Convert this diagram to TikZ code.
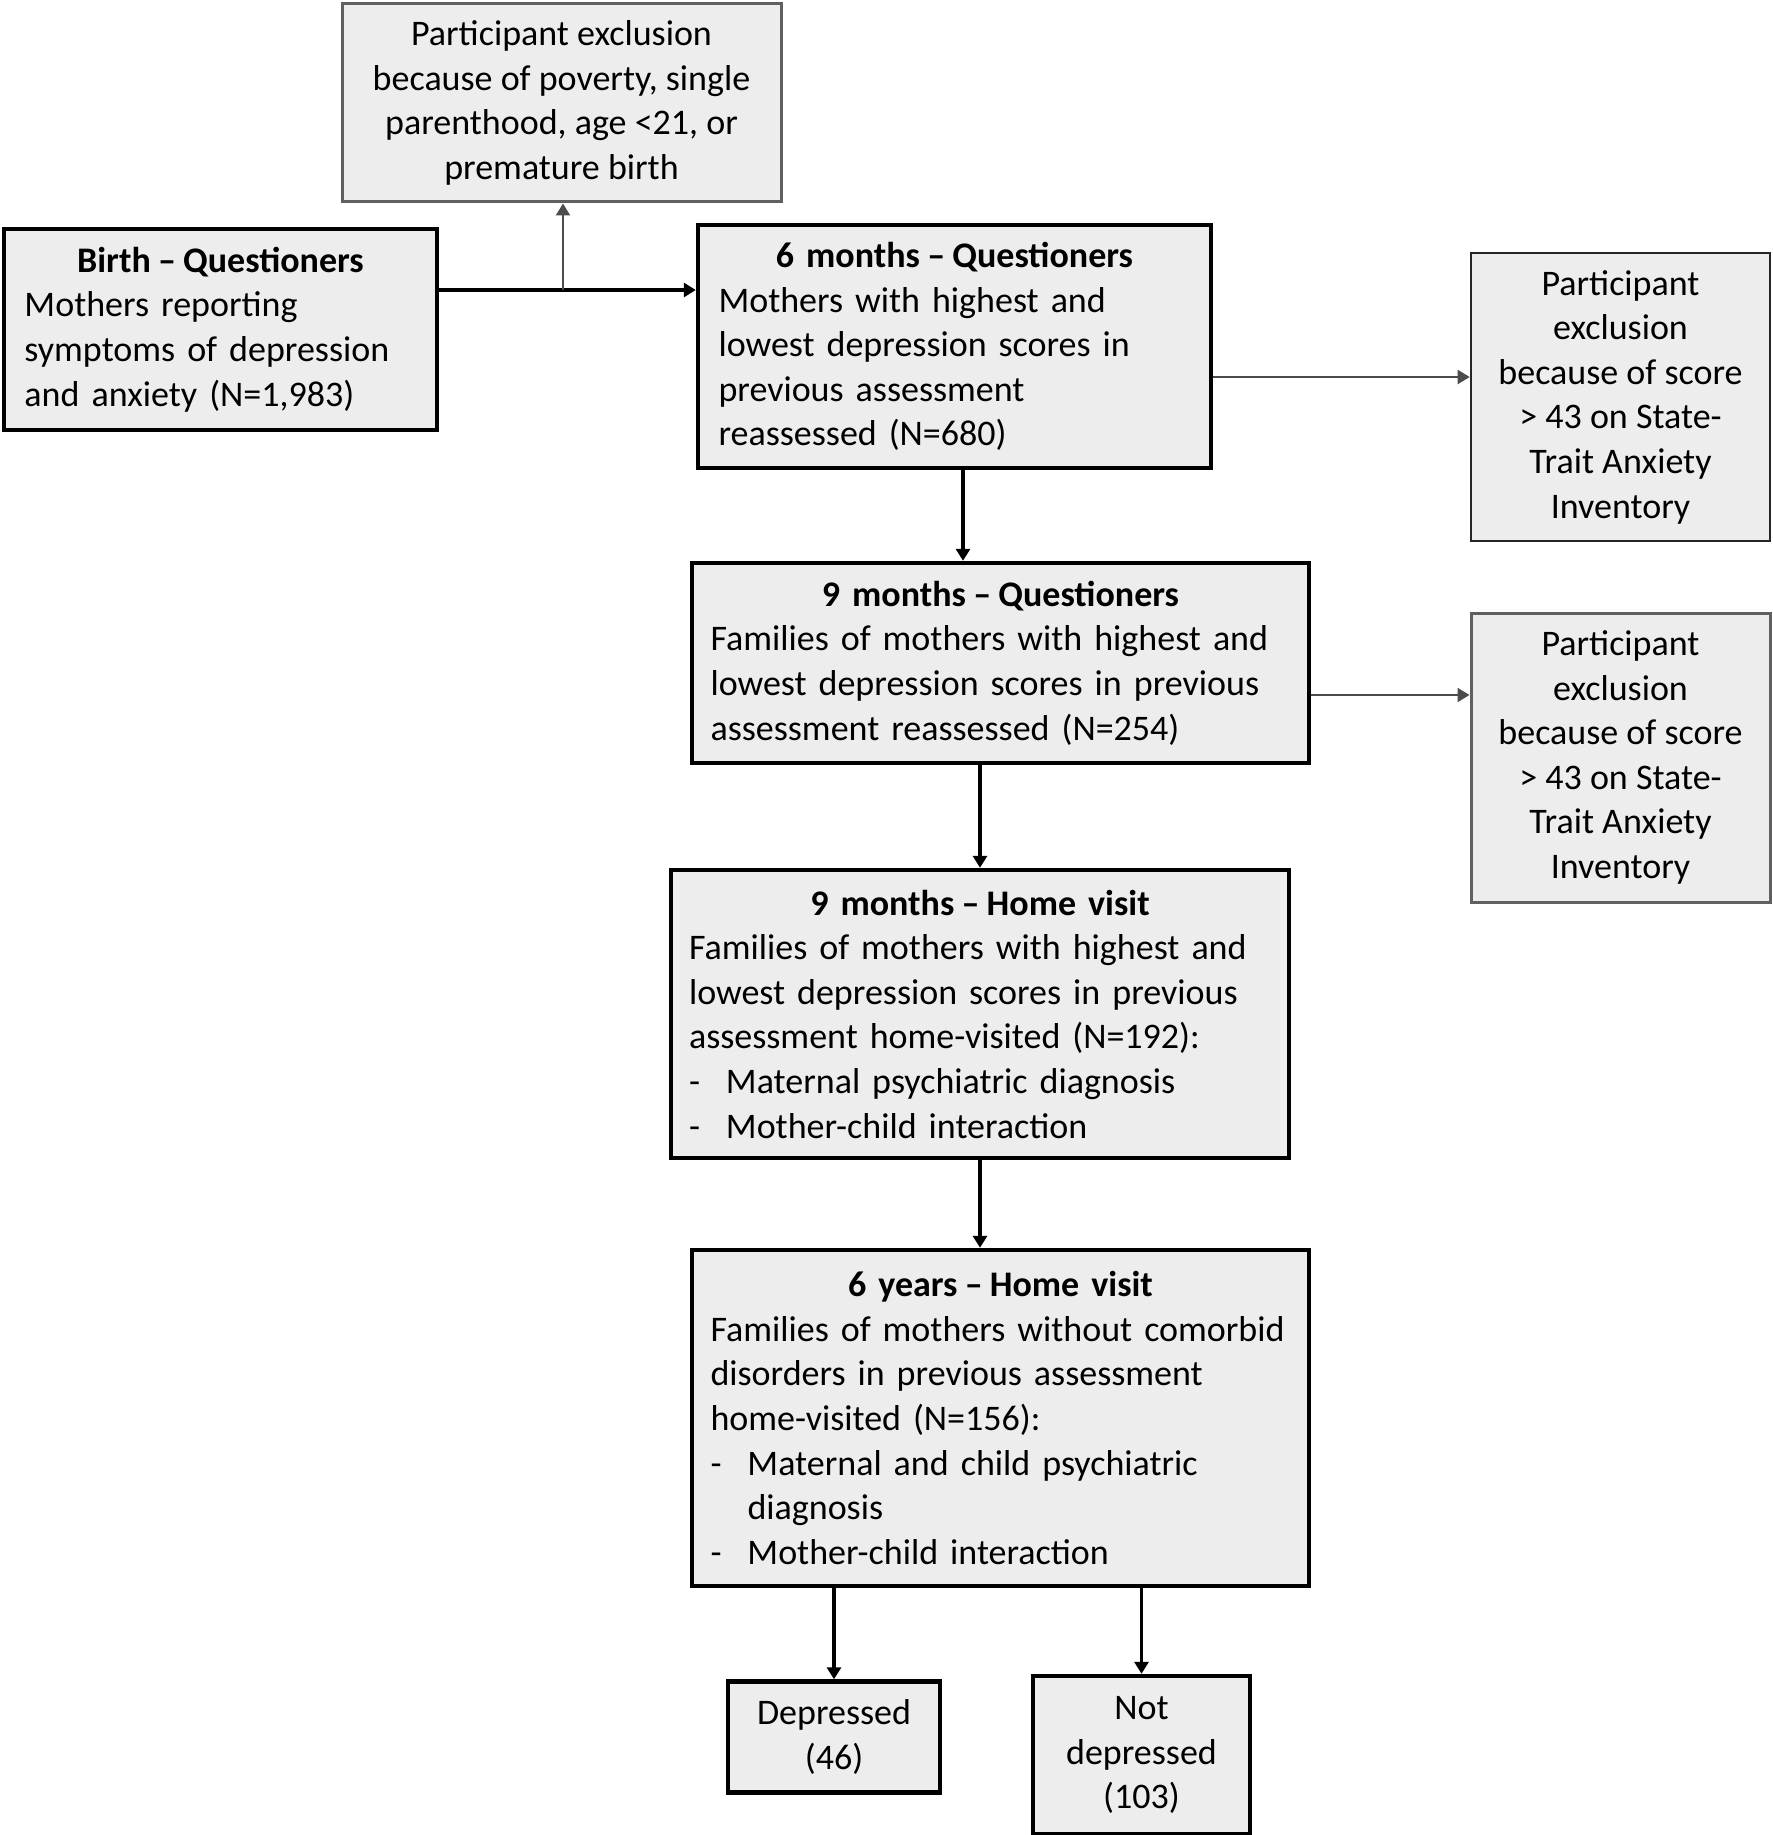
\documentclass[tikz,border=0pt]{standalone}
\usepackage{fontspec}
\setmainfont{Carlito}
\usetikzlibrary{arrows.meta,calc}
\definecolor{boxfill}{HTML}{EDEDED}
\tikzset{
  px/.style={x=0.5pt,y=-0.5pt},
  mainbox/.style={draw=black,line width=2.2pt,fill=boxfill,inner sep=0pt,
    font=\fontsize{18}{22.3}\selectfont},
  exbox/.style={draw=gray!75!black,line width=1.5pt,fill=boxfill,inner sep=0pt,
    align=center,font=\fontsize{18}{22.3}\selectfont},
  mainarrow/.style={line width=1.6pt,draw=black,-{Triangle[width=7pt,length=6pt]}},
  exarrow/.style={line width=1pt,draw=gray!60!black,-{Triangle[width=7pt,length=6pt]}},
}
\newcommand{\ttl}[2]{{\centering\bfseries #1\hspace{0.2em}–\hspace{0.2em}#2\par}}
\newcommand{\itm}[1]{\makebox[18.5pt][l]{-}#1}
\begin{document}
\begin{tikzpicture}[px]
\useasboundingbox (0,0) rectangle (1772,1835);

\node[exbox,minimum width=219.5pt,minimum height=99pt] (excTop) at (561.5,103)
  {Participant exclusion\\because of poverty, single\\parenthood, age <21, or\\premature birth};

\node[mainbox,minimum width=216.5pt,minimum height=100.5pt,text width=196pt] (birth) at (220.5,329.5)
  {\ttl{Birth}{Questioners}\raggedright Mothers reporting\\symptoms of depression\\and anxiety (N=1,983)};

\node[mainbox,minimum width=256.5pt,minimum height=121.5pt,text width=236pt] (m6) at (954.5,346.5)
  {\ttl{6 months}{Questioners}\raggedright Mothers with highest and\\lowest depression scores in\\previous assessment\\reassessed (N=680)};

\node[exbox,draw=black!85,line width=1.3pt,minimum width=149.5pt,minimum height=144pt] (exc1) at (1620.5,397)
  {Participant\\exclusion\\because of score\\> 43 on State-\\Trait Anxiety\\Inventory};

\node[mainbox,minimum width=308.5pt,minimum height=100pt,text width=290pt] (m9q) at (1000.5,663)
  {\ttl{9 months}{Questioners}\raggedright Families of mothers with highest and\\lowest depression scores in previous\\assessment reassessed (N=254)};

\node[exbox,minimum width=149.5pt,minimum height=144.5pt] (exc2) at (1620.5,757.5)
  {Participant\\exclusion\\because of score\\> 43 on State-\\Trait Anxiety\\Inventory};

\node[mainbox,minimum width=309pt,minimum height=144pt,text width=291pt] (m9h) at (980,1014)
  {\ttl{9 months}{Home visit}\raggedright Families of mothers with highest and\\lowest depression scores in previous\\assessment home-visited (N=192):\\\itm{Maternal psychiatric diagnosis}\\\itm{Mother-child interaction}};

\node[mainbox,minimum width=308.5pt,minimum height=168pt,text width=290pt] (y6) at (1000.5,1418)
  {\ttl{6 years}{Home visit}\raggedright Families of mothers without comorbid\\disorders in previous assessment\\home-visited (N=156):\\\itm{Maternal and child psychiatric}\\\hspace*{18.5pt}diagnosis\\\itm{Mother-child interaction}};

\node[mainbox,align=center,minimum width=106pt,minimum height=55.5pt] (dep) at (834,1737)
  {Depressed\\(46)};

\node[mainbox,align=center,minimum width=108.5pt,minimum height=79pt] (ndep) at (1141.5,1755)
  {Not\\depressed\\(103)};

% connectors
\coordinate (j) at (563,290);
\coordinate (e1) at (1300,377);
\coordinate (e2) at (1300,695);
\coordinate (v1) at (963,500);
\draw[line width=1.6pt] (birth.east|-j) -- (j);
\draw[mainarrow] (j) -- (m6.west|-j);
\draw[exarrow] (j) -- (excTop.south-|j);
\draw[exarrow] (m6.east|-e1) -- (exc1.west|-e1);
\draw[mainarrow] (m6.south-|v1) -- (m9q.north-|v1);
\draw[exarrow] (m9q.east|-e2) -- (exc2.west|-e2);
\draw[mainarrow] (m9q.south-|m9h.north) -- (m9h.north);
\draw[mainarrow] (m9h.south) -- (y6.north-|m9h.south);
\draw[mainarrow] (y6.south-|dep.north) -- (dep.north);
\draw[mainarrow] (y6.south-|ndep.north) -- (ndep.north);
\end{tikzpicture}
\end{document}
